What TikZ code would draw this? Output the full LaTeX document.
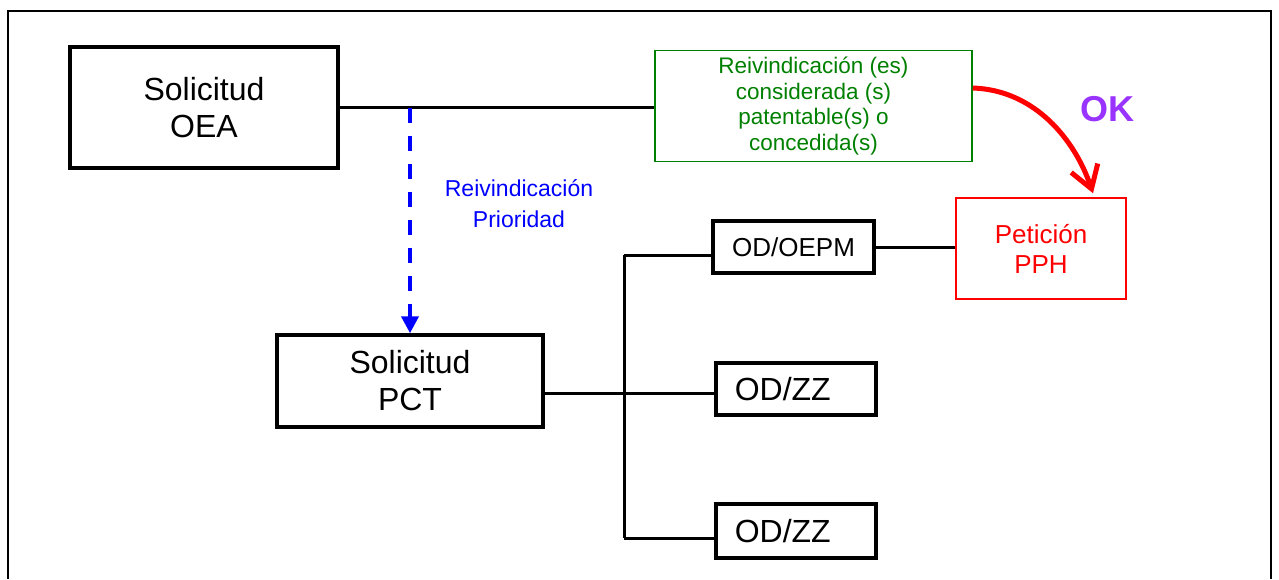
\documentclass[tikz,border=0pt]{standalone}
\usepackage{fontspec}
\setmainfont{Liberation Sans}
\usetikzlibrary{arrows.meta,calc}
\definecolor{dgreen}{RGB}{0,128,0}
\definecolor{okpurple}{RGB}{153,51,255}
\tikzset{
  blackbox/.style={draw=black,line width=3.5pt,inner sep=0pt,align=center},
  greenbox/.style={draw=dgreen,line width=1.5pt,inner sep=0pt,align=center,text=dgreen},
  redbox/.style={draw=red,line width=1.5pt,inner sep=0pt,align=center,text=red},
  bigtext/.style={font=\fontsize{32}{37}\selectfont},
  link/.style={draw=black,line width=3pt},
  prio/.style={draw=blue,line width=4pt,dash pattern=on 15pt off 13pt,-{Triangle[length=17pt,width=17pt]}},
  okarrow/.style={draw=red,line width=5pt,-{Straight Barb[length=22pt,width=28pt]}}
}
\begin{document}
\begin{tikzpicture}[x=1pt,y=-1pt]
\useasboundingbox (0,0) rectangle (1279,579);
% outer frame (open at the bottom)
\draw[line width=2pt] (8,579) -- (8,11) -- (1271,11) -- (1271,579);

\node[blackbox,bigtext,minimum width=268pt,minimum height=121pt] (oea) at (204,107.5) {Solicitud\\OEA};
\node[greenbox,font=\fontsize{22.5}{25.5}\selectfont,minimum width=317pt,minimum height=111pt] (claims) at (813.5,106) {Reivindicación (es)\\considerada (s)\\patentable(s) o\\concedida(s)};
\node[redbox,font=\fontsize{26}{30}\selectfont,minimum width=170pt,minimum height=101pt] (pph) at (1041,248.5) {Petición\\PPH};
\node[blackbox,font=\fontsize{26}{30}\selectfont,minimum width=161pt,minimum height=52pt] (oepm) at (793.5,247) {OD/OEPM};
\node[blackbox,bigtext,minimum width=266pt,minimum height=92pt] (pct) at (410,381) {Solicitud\\PCT};
\node[blackbox,bigtext,anchor=west,inner xsep=19pt,text width=122pt,align=left,minimum height=52pt] (zza) at (714,389) {OD/ZZ};
\node[blackbox,bigtext,anchor=west,inner xsep=19pt,text width=122pt,align=left,minimum height=54pt] (zzb) at (714,531) {OD/ZZ};
\node[text=blue,font=\fontsize{23}{31}\selectfont,align=center,inner sep=0pt] (prlabel) at (519,204) {Reivindicación\\Prioridad};
\node[text=okpurple,font=\fontsize{36}{40}\bfseries\selectfont,inner sep=0pt] (ok) at (1107,109) {OK};

% connectors
\draw[link] (oea.east) -- (oea.east -| claims.west);
\draw[link] (oepm.east) -- (oepm.east -| pph.west);
\coordinate (jtop) at (624,255);
\coordinate (jmid) at (624,393);
\coordinate (jbot) at (624,538);
\draw[link] (jtop) -- (jbot);
\draw[link] (jtop) -- (jtop -| oepm.west);
\draw[link] (pct.east |- jmid) -- (jmid -| zza.west);
\draw[link] (jbot) -- (jbot -| zzb.west);
\draw[prio] (pct.north |- oea.east) -- (pct.north);
\draw[okarrow] ($(claims.north east)!0.34!(claims.south east)$) .. controls (1035,90) and (1075,140) .. ($(pph.north)+(52,-4)$);
\end{tikzpicture}
\end{document}
